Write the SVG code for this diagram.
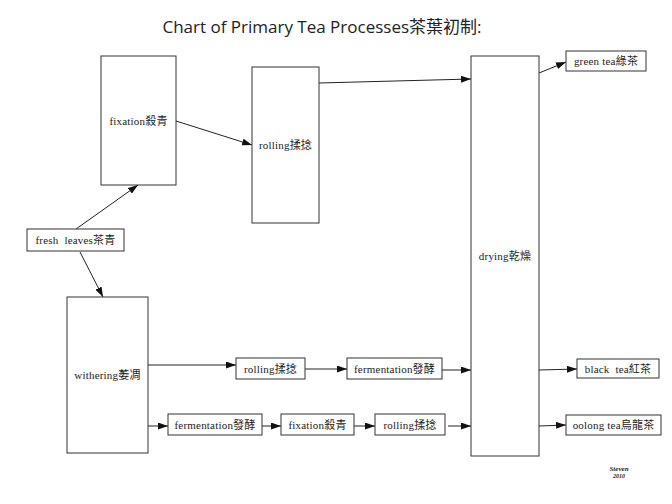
<svg xmlns="http://www.w3.org/2000/svg" width="672" height="504" viewBox="0 0 672 504">
<style>
.box{fill:#fff;stroke:#333;stroke-width:1}
.lbl{font-family:"Liberation Serif","Noto Sans CJK TC",serif;font-size:11px;fill:#222;text-anchor:middle;dominant-baseline:central;letter-spacing:0.2px}
.c{stroke:#222;stroke-width:1;fill:none;marker-end:url(#ah)}
</style>
<defs>
<marker id="ah" markerWidth="10" markerHeight="7" refX="10" refY="3.5" orient="auto" markerUnits="userSpaceOnUse">
<path d="M0,0 L10,3.5 L0,7 Z" fill="#111"/>
</marker>
</defs>
<rect width="672" height="504" fill="#fff"/>
<text x="322" y="33" font-family="'Open Sans','Noto Sans CJK TC',sans-serif" font-size="17" fill="#222" text-anchor="middle">Chart of Primary Tea Processes茶葉初制:</text>

<g id="connectors">
<line class="c" x1="76" y1="229" x2="138" y2="185"/>
<line class="c" x1="80" y1="252" x2="103" y2="297"/>
<line class="c" x1="176" y1="121" x2="252" y2="145"/>
<line class="c" x1="319" y1="83" x2="471" y2="79"/>
<line class="c" x1="148" y1="365" x2="236" y2="365"/>
<line class="c" x1="305" y1="369" x2="347" y2="369"/>
<line class="c" x1="442" y1="370" x2="471" y2="370"/>
<line class="c" x1="148" y1="426" x2="168" y2="426"/>
<line class="c" x1="262" y1="426" x2="281" y2="426"/>
<line class="c" x1="354" y1="426" x2="375" y2="426"/>
<line class="c" x1="448" y1="426" x2="471" y2="426"/>
<line class="c" x1="539" y1="73" x2="566" y2="62"/>
<line class="c" x1="539" y1="370" x2="577" y2="369"/>
<line class="c" x1="539" y1="426" x2="566" y2="425"/>
</g>

<g id="fresh"><rect class="box" x="27" y="229" width="97" height="22"/><text class="lbl" x="75.5" y="240">fresh&#160; leaves茶青</text></g>
<g id="fixation1"><rect class="box" x="101" y="56" width="75" height="129"/><text class="lbl" x="138.5" y="121">fixation殺青</text></g>
<g id="rolling1"><rect class="box" x="252" y="67" width="67" height="156"/><text class="lbl" x="285.5" y="145">rolling揉捻</text></g>
<g id="withering"><rect class="box" x="67" y="297" width="81" height="156"/><text class="lbl" x="107.5" y="375">withering萎凋</text></g>
<g id="rolling2"><rect class="box" x="236" y="358" width="69" height="21"/><text class="lbl" x="270.5" y="368.5">rolling揉捻</text></g>
<g id="fermentation1"><rect class="box" x="347" y="358" width="95" height="21"/><text class="lbl" x="394.5" y="368.5">fermentation發酵</text></g>
<g id="fermentation2"><rect class="box" x="168" y="414" width="94" height="21"/><text class="lbl" x="215" y="424.5">fermentation發酵</text></g>
<g id="fixation2"><rect class="box" x="281" y="414" width="73" height="21"/><text class="lbl" x="317.5" y="424.5">fixation殺青</text></g>
<g id="rolling3"><rect class="box" x="375" y="414" width="70" height="21"/><text class="lbl" x="410" y="424.5">rolling揉捻</text></g>
<g id="drying"><rect class="box" x="471" y="56" width="68" height="400"/><text class="lbl" x="505" y="256">drying乾燥</text></g>
<g id="green"><rect class="box" x="566" y="51" width="80" height="20"/><text class="lbl" x="606" y="61">green tea綠茶</text></g>
<g id="black"><rect class="box" x="577" y="359" width="82" height="19"/><text class="lbl" x="618" y="368.5">black&#160; tea紅茶</text></g>
<g id="oolong"><rect class="box" x="566" y="415" width="95" height="20"/><text class="lbl" x="613.5" y="425">oolong tea烏龍茶</text></g>

<text x="619" y="471" font-family="'Liberation Serif',serif" font-size="7" font-style="italic" font-weight="bold" fill="#222" text-anchor="middle">Steven</text>
<text x="619" y="478" font-family="'Liberation Serif',serif" font-size="6" font-style="italic" font-weight="bold" fill="#222" text-anchor="middle">2010</text>
</svg>
